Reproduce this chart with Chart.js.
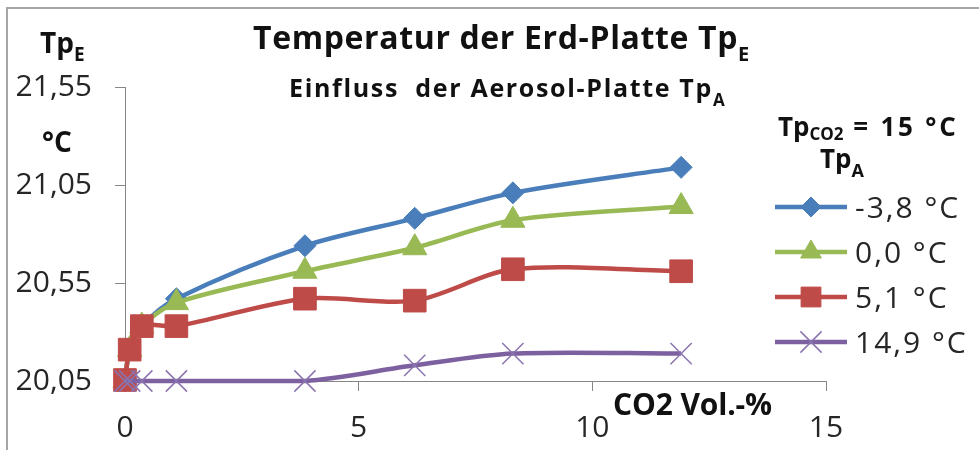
<!DOCTYPE html>
<html>
<head>
<meta charset="utf-8">
<script src="https://cdn.jsdelivr.net/npm/chart.js@4"></script>
<style>
  html, body { margin: 0; padding: 0; background: #fff; }
  #rahmen { width: 979px; height: 450px; position: relative; }
</style>
</head>
<body>
<div id="rahmen"><canvas id="grafik"></canvas></div>
<script>
// CO2-Anteil in Vol.-%
const co2 = [0, 0.1, 0.36, 1.1, 3.85, 6.2, 8.3, 11.9];

// Tp_E in °C, je eine Reihe pro Temperatur der Aerosol-Platte Tp_A
const tpA_m38 = [20.05, 20.21, 20.33, 20.47, 20.74, 20.88, 21.01, 21.14];
const tpA_00 = [20.05, 20.21, 20.33, 20.45, 20.61, 20.73, 20.87, 20.94];
const tpA_51 = [20.055, 20.21, 20.33, 20.33, 20.47, 20.46, 20.62, 20.61];
const tpA_149 = [20.05, 20.05, 20.05, 20.05, 20.05, 20.13, 20.19, 20.19];

const serienNamen = ["-3,8 °C", "0,0 °C", "5,1 °C", "14,9 °C"];
const yTicks = [20.05, 20.55, 21.05, 21.55];
const xTicks = [0, 5, 10, 15];

const farben = ["#4a7ebb", "#98b954", "#be4b48", "#7d60a0"];
const punktStile = ["rectRot", "triangle", "rect", "crossRot"];
const punktRadien = [11, 14, 16, 15];
const legendeRadien = [10, 12, 14, 15];

const FONT = '"Open Sans", sans-serif';

function punkte(werte) {
    return co2.map((x, i) => ({ x, y: werte[i] }));
}

// Text mit Tiefstellung: teile = [text, font, dy, abstand]
function schreibe(ctx, teile, x, y) {
    let cx = x;
    teile.forEach(([text, font, dy, abstand]) => {
        ctx.font = font;
        ctx.letterSpacing = (abstand || 0) + "px";
        ctx.fillText(text, cx, y + (dy || 0));
        cx += ctx.measureText(text).width;
    });
    ctx.letterSpacing = "0px";
}

function abstandFuer(ctx, text, font, breite) {
    ctx.font = font;
    ctx.letterSpacing = "0px";
    return (breite - ctx.measureText(text).width) / text.length;
}

const beschriftung = {
    id: "beschriftung",
    beforeDraw(chart) {
        const ctx = chart.ctx;
        ctx.save();
        ctx.strokeStyle = "#a6a6a6";
        ctx.lineWidth = 2;
        ctx.beginPath();
        ctx.moveTo(7, 450);
        ctx.lineTo(7, 8);
        ctx.lineTo(979, 8);
        ctx.stroke();
        ctx.restore();
    },
    afterDraw(chart) {
        const ctx = chart.ctx;
        ctx.save();
        ctx.textAlign = "left";
        ctx.textBaseline = "alphabetic";
        ctx.fillStyle = "#111";

        // Titel
        const fT = "bold 32px " + FONT;
        const tTitel = "Temperatur der Erd-Platte Tp";
        schreibe(ctx, [[tTitel, fT, 0, abstandFuer(ctx, tTitel, fT, 485)], ["E", "bold 20px " + FONT, 12]], 253, 49);

        const fU = "bold 25px " + FONT;
        const tUnter = "Einfluss  der Aerosol-Platte Tp";
        schreibe(ctx, [[tUnter, fU, 0, abstandFuer(ctx, tUnter, fU, 424)], ["A", "bold 17px " + FONT, 9]], 289, 97);

        // Achsentitel
        schreibe(ctx, [["Tp", "bold 28px " + FONT], ["E", "bold 19px " + FONT, 8]], 40, 53);
        schreibe(ctx, [["°C", "bold 28px " + FONT]], 42, 152);
        const fX = "bold 30px " + FONT;
        schreibe(ctx, [["CO2 Vol.-%", fX, 0, abstandFuer(ctx, "CO2 Vol.-%", fX, 159)]], 613, 415);

        // Legende
        const fL = "bold 26px " + FONT;
        schreibe(ctx, [["Tp", fL], ["CO2", "bold 17px " + FONT, 4],
            [" = 15 °C", fL, 0, abstandFuer(ctx, " = 15 °C", fL, 115)]], 778, 136);
        schreibe(ctx, [["Tp", "bold 26px " + FONT], ["A", "bold 18px " + FONT, 9]], 820, 168);

        serienNamen.forEach((name, i) => {
            const y = 207 + i * 45;
            ctx.strokeStyle = farben[i];
            ctx.lineWidth = 4.5;
            ctx.beginPath();
            ctx.moveTo(775, y);
            ctx.lineTo(847, y);
            ctx.stroke();

            ctx.fillStyle = farben[i];
            ctx.strokeStyle = i === 3 ? "#8a74b0" : farben[i];
            ctx.lineWidth = i === 3 ? 1.5 : 1;
            Chart.helpers.drawPoint(ctx, {
                pointStyle: punktStile[i],
                radius: legendeRadien[i],
                rotation: 0,
                borderWidth: 1
            }, 811, y);

            ctx.fillStyle = "#262626";
            schreibe(ctx, [[name, "30px " + FONT, 0, 2]], 855, y + 11);
        });
        ctx.restore();
    }
};

const reihen = [tpA_m38, tpA_00, tpA_51, tpA_149];

new Chart(document.getElementById("grafik"), {
    type: "line",
    data: {
        datasets: reihen.map((werte, i) => ({
            label: serienNamen[i],
            data: punkte(werte),
            borderColor: farben[i],
            backgroundColor: farben[i],
            pointStyle: punktStile[i],
            pointRadius: punktRadien[i],
            pointBackgroundColor: farben[i],
            pointBorderColor: i === 3 ? "#8a74b0" : farben[i],
            pointBorderWidth: i === 3 ? 1.5 : 1,
            borderWidth: 4.5,
            tension: 0.3,
            clip: false,
            order: 3 - i
        }))
    },
    options: {
        responsive: true,
        maintainAspectRatio: false,
        animation: false,
        layout: { padding: { left: 0, top: 87, right: 153, bottom: 0 } },
        plugins: {
            legend: { display: false },
            tooltip: { enabled: false }
        },
        scales: {
            x: {
                type: "linear",
                min: xTicks[0],
                max: xTicks[xTicks.length - 1],
                afterFit: s => { s.height = 69; },
                afterBuildTicks: s => { s.ticks = xTicks.map(v => ({ value: v })); },
                grid: { drawOnChartArea: false, tickLength: 10, color: "#868686" },
                border: { color: "#868686", width: 1 },
                ticks: {
                    font: { family: FONT, size: 30 },
                    color: "#262626",
                    padding: 19,
                    maxRotation: 0,
                    callback: v => String(v)
                }
            },
            y: {
                type: "linear",
                min: yTicks[0],
                max: yTicks[yTicks.length - 1],
                afterFit: s => { s.width = 125; },
                afterBuildTicks: s => { s.ticks = yTicks.map(v => ({ value: v })); },
                grid: { drawOnChartArea: false, tickLength: 10, color: "#868686" },
                border: { color: "#868686", width: 1 },
                ticks: {
                    font: { family: FONT, size: 30 },
                    color: "#262626",
                    padding: 23,
                    callback: v => v.toFixed(2).replace(".", ",")
                }
            }
        }
    },
    plugins: [beschriftung]
});
</script>
</body>
</html>
